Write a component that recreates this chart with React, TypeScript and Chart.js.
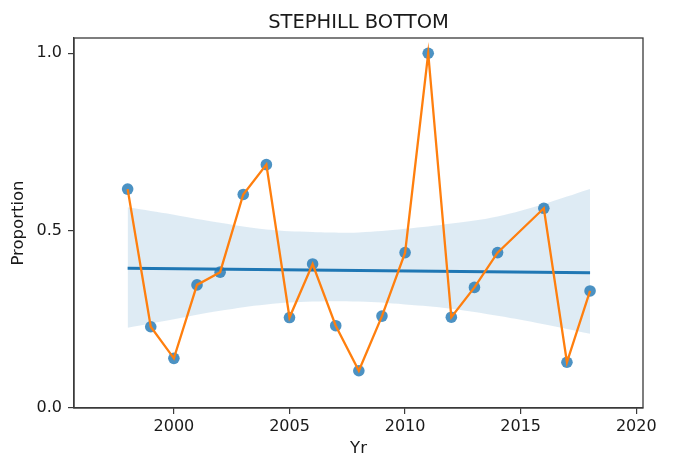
import React, { useEffect, useRef } from "react";
import { Chart, registerables } from "chart.js";

Chart.register(...registerables);

const years = [1998, 1999, 2000, 2001, 2002, 2003, 2004, 2005, 2006, 2007, 2008, 2009, 2010, 2011, 2012, 2013, 2014, 2016, 2017, 2018];
const proportion = [0.617, 0.229, 0.14, 0.347, 0.383, 0.602, 0.686, 0.255, 0.406, 0.232, 0.105, 0.259, 0.438, 1.0, 0.256, 0.34, 0.438, 0.563, 0.129, 0.33];

const fitYears = [1998, 2018];
const fitValues = [0.394, 0.381];

const bandYears = [1998, 2000, 2002, 2004, 2006, 2008, 2010, 2012, 2014, 2016, 2018];
const bandUpper = [0.566, 0.545, 0.522, 0.503, 0.496, 0.495, 0.505, 0.52, 0.54, 0.575, 0.617];
const bandLower = [0.226, 0.25, 0.274, 0.292, 0.3, 0.3, 0.292, 0.28, 0.26, 0.236, 0.209];

const xTicks = [2000, 2005, 2010, 2015, 2020];
const yTicks = [0, 0.5, 1.0];

const titleText = "STEPHILL BOTTOM";
const xLabel = "Yr";
const yLabel = "Proportion";

const FONT = "'DejaVu Sans', sans-serif";

export default function App() {
  const ref = useRef<HTMLCanvasElement | null>(null);

  useEffect(() => {
    const canvas = ref.current;
    if (!canvas) return;

    const framePlugin = {
      id: "frame",
      afterDraw(chart: any) {
        const { ctx, chartArea } = chart;
        ctx.save();
        ctx.strokeStyle = "#3a3a3a";
        ctx.lineWidth = 1.3;
        ctx.strokeRect(chartArea.left, chartArea.top, chartArea.right - chartArea.left, chartArea.bottom - chartArea.top);
        ctx.fillStyle = "#1a1a1a";
        ctx.font = `19.5px ${FONT}`;
        ctx.textAlign = "center";
        ctx.textBaseline = "alphabetic";
        ctx.fillText(titleText, (chartArea.left + chartArea.right) / 2, chartArea.top - 10);
        ctx.restore();
      },
    };

    const chart = new Chart(canvas, {
      type: "line",
      data: {
        datasets: [
          {
            label: "line",
            data: years.map((x, i) => ({ x, y: proportion[i] })),
            borderColor: "#ff7f0e",
            borderWidth: 2.3,
            pointRadius: 0,
            fill: false,
            tension: 0,
          },
          {
            label: "points",
            data: years.map((x, i) => ({ x, y: proportion[i] })),
            showLine: false,
            pointRadius: 5.8,
            pointBackgroundColor: "rgba(31,119,180,0.8)",
            pointBorderWidth: 0,
            borderColor: "rgba(31,119,180,0.8)",
          },
          {
            label: "fit",
            data: fitYears.map((x, i) => ({ x, y: fitValues[i] })),
            borderColor: "#1f77b4",
            borderWidth: 3,
            pointRadius: 0,
            fill: false,
          },
          {
            label: "upper",
            data: bandYears.map((x, i) => ({ x, y: bandUpper[i] })),
            borderWidth: 0,
            borderColor: "rgba(0,0,0,0)",
            pointRadius: 0,
            backgroundColor: "rgba(31,119,180,0.15)",
            fill: "+1",
            tension: 0.4,
          },
          {
            label: "lower",
            data: bandYears.map((x, i) => ({ x, y: bandLower[i] })),
            borderWidth: 0,
            borderColor: "rgba(0,0,0,0)",
            pointRadius: 0,
            fill: false,
            tension: 0.4,
          },
        ],
      },
      options: {
        animation: false,
        responsive: false,
        maintainAspectRatio: false,
        layout: { padding: { top: 38, right: 31, left: 0, bottom: 0 } },
        plugins: {
          legend: { display: false },
          tooltip: { enabled: false },
          title: { display: false },
        },
        scales: {
          x: {
            type: "linear",
            min: 1995.68,
            max: 2020.29,
            afterBuildTicks: (s: any) => {
              s.ticks = xTicks.map((v) => ({ value: v }));
            },
            afterFit: (s: any) => {
              s.height = 51;
            },
            ticks: {
              callback: (v: any) => String(v),
              font: { family: FONT, size: 16 },
              color: "#1a1a1a",
              padding: 3,
              maxRotation: 0,
              autoSkip: false,
            },
            grid: { drawOnChartArea: false, drawTicks: true, tickLength: 6, color: "#3a3a3a", lineWidth: 1.2 },
            border: { display: true, color: "#3a3a3a", width: 1.3 },
            title: {
              display: true,
              text: xLabel,
              font: { family: FONT, size: 16.5 },
              color: "#1a1a1a",
              padding: { top: 0, bottom: 0 },
            },
          },
          y: {
            type: "linear",
            min: 0,
            max: 1.043,
            afterBuildTicks: (s: any) => {
              s.ticks = yTicks.map((v) => ({ value: v }));
            },
            afterFit: (s: any) => {
              s.width = 74;
            },
            ticks: {
              callback: (v: any) => Number(v).toFixed(1),
              font: { family: FONT, size: 16 },
              color: "#1a1a1a",
              padding: 6,
              autoSkip: false,
            },
            grid: { drawOnChartArea: false, drawTicks: true, tickLength: 6, color: "#3a3a3a", lineWidth: 1.2 },
            border: { display: true, color: "#3a3a3a", width: 1.3 },
            title: {
              display: true,
              text: yLabel,
              font: { family: FONT, size: 16.5 },
              color: "#1a1a1a",
              padding: { top: 9, bottom: 0 },
            },
          },
        },
      },
      plugins: [framePlugin],
    } as any);

    return () => chart.destroy();
  }, []);

  return (
    <div style={{ position: "fixed", left: 0, top: 0, width: 674, height: 459, background: "#fff" }}>
      <canvas ref={ref} width={674} height={459} style={{ width: 674, height: 459, display: "block" }} />
    </div>
  );
}
